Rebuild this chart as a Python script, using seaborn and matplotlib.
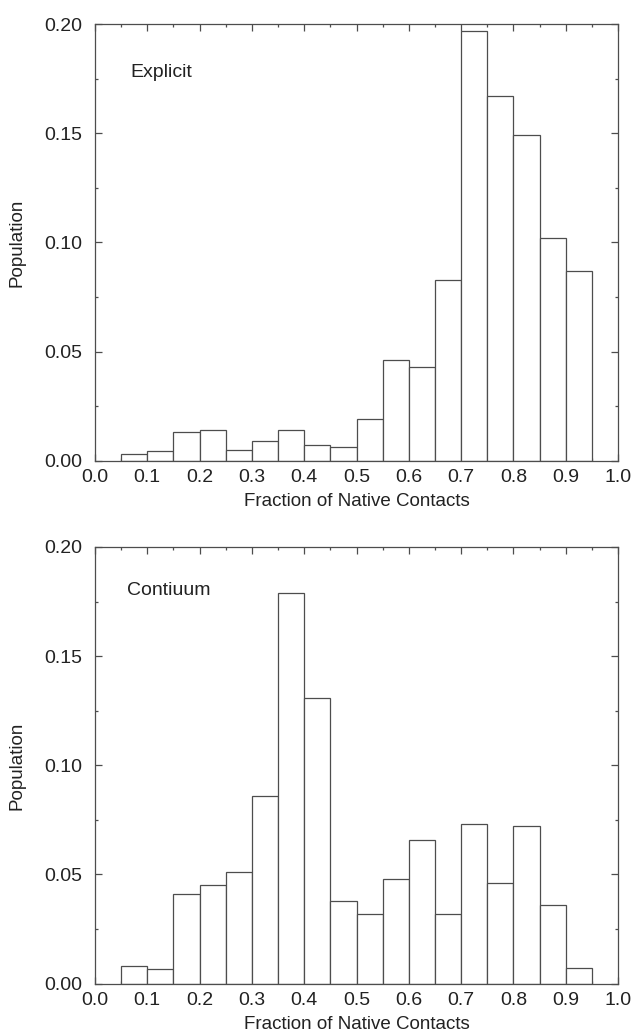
import numpy as np
import matplotlib.pyplot as plt
import seaborn as sns
from matplotlib.ticker import MultipleLocator

# bin edges of the histograms (fraction of native contacts)
bin_edges = [0.05, 0.10, 0.15, 0.20, 0.25, 0.30, 0.35, 0.40, 0.45, 0.50,
             0.55, 0.60, 0.65, 0.70, 0.75, 0.80, 0.85, 0.90, 0.95]

explicit_pop = [0.0032, 0.0043, 0.0131, 0.0140, 0.0049, 0.0090, 0.0142, 0.0072, 0.0061,
                0.0190, 0.0460, 0.0430, 0.0829, 0.1970, 0.1670, 0.1490, 0.1020, 0.0870]

continuum_pop = [0.0080, 0.0069, 0.0410, 0.0450, 0.0510, 0.0860, 0.1790, 0.1310, 0.0380,
                 0.0320, 0.0480, 0.0660, 0.0320, 0.0730, 0.0460, 0.0720, 0.0360, 0.0070]

panels = [("Explicit", explicit_pop, 0.068, 0.178),
          ("Contiuum", continuum_pop, 0.061, 0.180)]

sns.set_theme(style="ticks")
plt.rcParams['font.family'] = ['Liberation Sans', 'DejaVu Sans']

line_col = "#4d4d4d"
fig = plt.figure(figsize=(6.33, 10.35), dpi=100)
ax_top = fig.add_axes([0.150, 0.5549, 0.8264, 0.4219])
ax_bot = fig.add_axes([0.150, 0.0496, 0.8264, 0.4219])

centers = [(a + b) / 2 for a, b in zip(bin_edges[:-1], bin_edges[1:])]

for ax, (name, pop, tx, ty) in zip([ax_top, ax_bot], panels):
    sns.histplot(x=centers, weights=pop, bins=bin_edges, ax=ax,
                 color="white", edgecolor=line_col, linewidth=0.9, alpha=1)
    ax.set_xlim(0, 1.0)
    ax.set_ylim(0, 0.20)
    ax.xaxis.set_major_locator(MultipleLocator(0.1))
    ax.xaxis.set_minor_locator(MultipleLocator(0.05))
    ax.yaxis.set_major_locator(MultipleLocator(0.05))
    ax.yaxis.set_minor_locator(MultipleLocator(0.025))
    ax.xaxis.set_major_formatter(lambda v, p: f"{v:.1f}")
    ax.yaxis.set_major_formatter(lambda v, p: f"{v:.2f}")
    ax.tick_params(which="both", direction="in", top=True, right=True,
                   color=line_col, width=0.9, labelsize=14, labelcolor="#222222")
    ax.tick_params(axis="y", pad=9)
    ax.tick_params(axis="x", pad=6)
    ax.tick_params(which="major", length=5)
    ax.tick_params(which="minor", length=2.5)
    for s in ax.spines.values():
        s.set_color(line_col)
        s.set_linewidth(0.9)
    ax.set_xlabel("Fraction of Native Contacts", fontsize=13.5, color="#222222")
    ax.set_ylabel("Population", fontsize=13.5, color="#222222")
    ax.xaxis.set_label_coords(0.5, -0.075)
    ax.yaxis.set_label_coords(-0.149, 0.5)
    ax.yaxis.label.set_va("center")
    ax.text(tx, ty, name, fontsize=14, va="center", ha="left", color="#222222")

fig.savefig("out.png", dpi=100)
